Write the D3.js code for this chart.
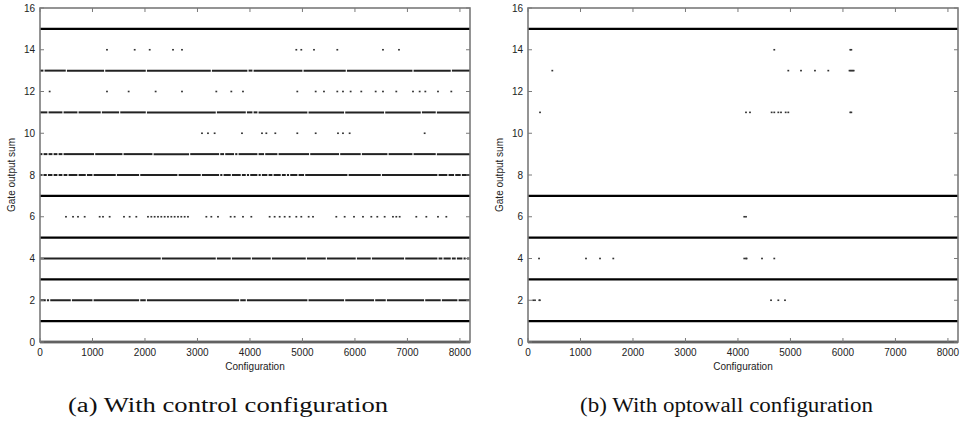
<!DOCTYPE html>
<html>
<head>
<meta charset="utf-8">
<script src="https://cdn.jsdelivr.net/npm/d3@7"></script>
<style>
  html, body { margin: 0; padding: 0; background: #fff; }
  svg { display: block; }
  .tick-label { font-family: "Liberation Sans", Arial, sans-serif; font-size: 10px; fill: #222; }
  .axis-title { font-family: "Liberation Sans", Arial, sans-serif; font-size: 10px; fill: #222; }
  .caption { font-family: "Liberation Serif", "DejaVu Serif", serif; font-size: 20px; fill: #111; }
</style>
</head>
<body>
<svg id="chart" width="964" height="428"></svg>
<script>
// Axis ticks
const xTicks = [0, 1000, 2000, 3000, 4000, 5000, 6000, 7000, 8000];
const yTicks = [0, 2, 4, 6, 8, 10, 12, 14, 16];
const configCount = 8192;

// (a) control configuration: rows hit by (almost) every configuration
const controlSolidRows = [0, 1, 3, 5, 7, 15];
// rows hit by most configurations, with the missing configurations listed
const controlGaps13 = [76, 502, 1232, 2026, 3264, 3962, 4058, 5010, 5836, 7106, 7836];
const controlGaps11 = [152, 438, 724, 1168, 1518, 2026, 3359, 3931, 4058, 4153, 5105, 5804, 6566, 7265, 7550];
const controlGaps9 = [57, 152, 248, 343, 438, 1041, 1581, 2153, 2851, 3423, 3518, 3708, 3772, 4153, 4280, 4534, 5137, 5708, 6121, 6630, 7106, 7550];
const controlGaps8 = [57, 140, 248, 343, 438, 533, 724, 883, 1010, 1454, 1899, 2629, 3073, 3423, 3486, 3645, 3835, 3931, 3994, 4153, 4216, 4343, 4439, 4597, 4693, 4756, 4915, 5042, 5868, 6503, 7582, 7772, 7900, 8026];
const controlGaps4 = [2311, 3359, 3645, 4026, 4407, 5074, 5455, 6026, 6312, 6947, 7582, 7677, 7836, 7931, 8058, 8121];
const controlGaps2 = [121, 184, 597, 1010, 1899, 2026, 3804, 3931, 5105, 5804, 6375, 6598, 7328, 7645, 7963];
// rows hit by only a few configurations
const controlPts14 = [1276, 1804, 2090, 2534, 2705, 4883, 4978, 5220, 5664, 6534, 6839];
const controlPts12 = [184, 1276, 1689, 2203, 2705, 3359, 3645, 3867, 4902, 5252, 5410, 5664, 5772, 5918, 6121, 6395, 6534, 6788, 7106, 7233, 7341, 7582, 7836];
const controlPts10 = [3086, 3200, 3327, 3848, 4229, 4312, 4483, 4902, 5252, 5677, 5772, 5899, 7328];
const controlPts6 = [495, 629, 724, 851, 1137, 1200, 1327, 1600, 1708, 1835, 2057, 2121, 2184, 2248, 2311, 2375, 2438, 2502, 2565, 2629, 2692, 2756, 2819, 3169, 3264, 3391, 3632, 3708, 3867, 4026, 4375, 4470, 4566, 4661, 4756, 4883, 4978, 5118, 5201, 5645, 5804, 5982, 6153, 6312, 6426, 6566, 6724, 6788, 6852, 7169, 7360, 7582, 7741];

// (b) optowall configuration
const optoSolidRows = [0, 1, 3, 5, 7, 15];
const optoPts14 = [4692, 6140, 6160];
const optoPts13 = [463, 4959, 5201, 5467, 5721, 6125, 6145, 6165, 6185, 6205];
const optoPts11 = [229, 4153, 4229, 4642, 4692, 4769, 4820, 4909, 4959, 6140, 6160];
const optoPts6 = [4120, 4153];
const optoPts4 = [210, 1105, 1372, 1625, 4120, 4153, 4165, 4458, 4692];
const optoPts2 = [100, 133, 216, 225, 4630, 4769, 4896];

const gapWidth = 22;

const svg = d3.select("#chart");

// Split a full row into runs, leaving out each listed gap
function runsFromGaps(gaps) {
  const runs = [];
  let start = 0;
  gaps.slice().sort((a, b) => a - b).forEach(g => {
    const a = g - gapWidth / 2, b = g + gapWidth / 2;
    if (a > start) runs.push([start, a]);
    start = Math.max(start, b);
  });
  if (start < configCount) runs.push([start, configCount]);
  return runs;
}

function drawPanel(opts) {
  const { left, right, top, bottom, solidRows, denseRows, sparseRows, xTitleX, yTitleX } = opts;
  const x = d3.scaleLinear().domain([0, configCount]).range([left, right]);
  const y = d3.scaleLinear().domain([0, 16]).range([bottom, top]);
  const g = svg.append("g");

  // dense rows drawn as broken runs
  denseRows.forEach(row => {
    g.append("g").selectAll("line")
      .data(runsFromGaps(row.gaps))
      .join("line")
      .attr("x1", d => x(d[0])).attr("x2", d => x(d[1]))
      .attr("y1", y(row.level)).attr("y2", y(row.level))
      .attr("stroke", "#222").attr("stroke-width", 2);
  });

  // solid rows
  g.append("g").selectAll("line")
    .data(solidRows)
    .join("line")
    .attr("x1", x(0)).attr("x2", x(configCount))
    .attr("y1", d => y(d)).attr("y2", d => y(d))
    .attr("stroke", "#000").attr("stroke-width", 2.4);

  // sparse points
  sparseRows.forEach(row => {
    g.append("g").selectAll("rect")
      .data(row.xs)
      .join("rect")
      .attr("x", d => x(d) - 0.9).attr("y", y(row.level) - 0.8)
      .attr("width", 1.8).attr("height", 1.6)
      .attr("fill", "#333");
  });

  // frame
  const frame = "#7a7a7a";
  g.append("rect")
    .attr("x", left).attr("y", top)
    .attr("width", right - left).attr("height", bottom - top)
    .attr("fill", "none").attr("stroke", frame).attr("stroke-width", 1.6);

  // inward ticks on all four sides
  const tl = 4;
  g.append("g").selectAll("line.xb").data(xTicks).join("line")
    .attr("x1", d => x(d)).attr("x2", d => x(d))
    .attr("y1", bottom).attr("y2", bottom - tl)
    .attr("stroke", frame).attr("stroke-width", 1);
  g.append("g").selectAll("line.xt").data(xTicks).join("line")
    .attr("x1", d => x(d)).attr("x2", d => x(d))
    .attr("y1", top).attr("y2", top + tl)
    .attr("stroke", frame).attr("stroke-width", 1);
  g.append("g").selectAll("line.yl").data(yTicks).join("line")
    .attr("x1", left).attr("x2", left + tl)
    .attr("y1", d => y(d)).attr("y2", d => y(d))
    .attr("stroke", frame).attr("stroke-width", 1);
  g.append("g").selectAll("line.yr").data(yTicks).join("line")
    .attr("x1", right).attr("x2", right - tl)
    .attr("y1", d => y(d)).attr("y2", d => y(d))
    .attr("stroke", frame).attr("stroke-width", 1);

  // tick labels
  g.append("g").selectAll("text").data(xTicks).join("text")
    .attr("class", "tick-label")
    .attr("x", d => x(d)).attr("y", bottom + 14)
    .attr("text-anchor", "middle")
    .text(d => d);
  g.append("g").selectAll("text").data(yTicks).join("text")
    .attr("class", "tick-label")
    .attr("x", left - 5).attr("y", d => y(d) + 3.5)
    .attr("text-anchor", "end")
    .text(d => d);

  // axis titles
  g.append("text").attr("class", "axis-title")
    .attr("x", xTitleX).attr("y", bottom + 28)
    .attr("text-anchor", "middle").text("Configuration");
  g.append("text").attr("class", "axis-title")
    .attr("transform", `translate(${yTitleX},${(top + bottom) / 2}) rotate(-90)`)
    .attr("text-anchor", "middle").text("Gate output sum");
}

drawPanel({
  left: 40, right: 470, top: 8, bottom: 342,
  solidRows: controlSolidRows,
  denseRows: [
    { level: 13, gaps: controlGaps13 },
    { level: 11, gaps: controlGaps11 },
    { level: 9, gaps: controlGaps9 },
    { level: 8, gaps: controlGaps8 },
    { level: 4, gaps: controlGaps4 },
    { level: 2, gaps: controlGaps2 }
  ],
  sparseRows: [
    { level: 14, xs: controlPts14 },
    { level: 12, xs: controlPts12 },
    { level: 10, xs: controlPts10 },
    { level: 6, xs: controlPts6 }
  ],
  xTitleX: 255, yTitleX: 15
});

drawPanel({
  left: 528, right: 958, top: 8, bottom: 342,
  solidRows: optoSolidRows,
  denseRows: [],
  sparseRows: [
    { level: 14, xs: optoPts14 },
    { level: 13, xs: optoPts13 },
    { level: 11, xs: optoPts11 },
    { level: 6, xs: optoPts6 },
    { level: 4, xs: optoPts4 },
    { level: 2, xs: optoPts2 }
  ],
  xTitleX: 743, yTitleX: 503
});

// sub-figure captions
svg.append("text").attr("class", "caption")
  .attr("x", 68).attr("y", 412)
  .attr("textLength", 320).attr("lengthAdjust", "spacingAndGlyphs")
  .text("(a) With control configuration");
svg.append("text").attr("class", "caption")
  .attr("x", 580).attr("y", 412)
  .attr("textLength", 293).attr("lengthAdjust", "spacingAndGlyphs")
  .text("(b) With optowall configuration");
</script>
</body>
</html>
